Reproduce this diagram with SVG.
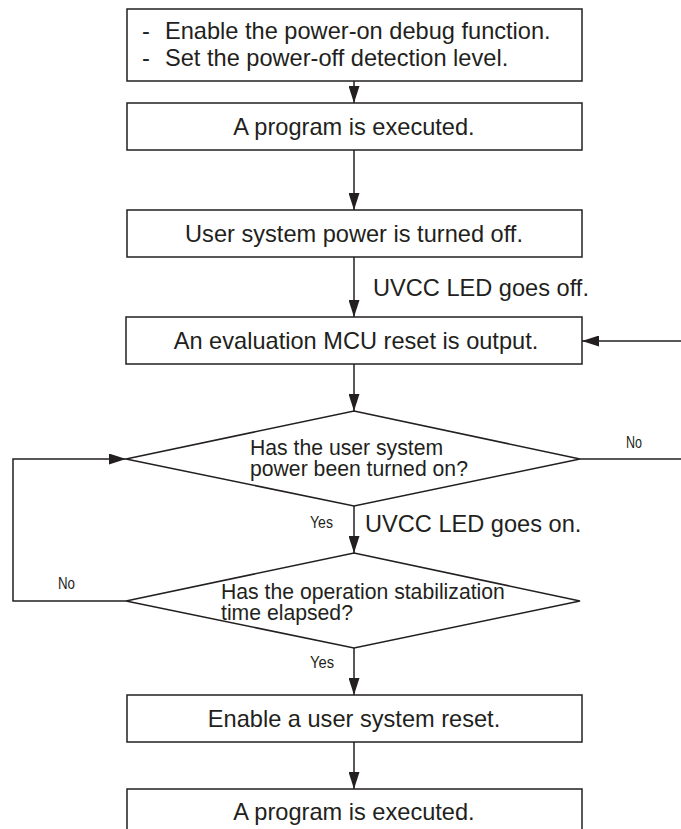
<svg xmlns="http://www.w3.org/2000/svg" width="681" height="829" viewBox="0 0 681 829">
<style>
.box{fill:#fff;stroke:#231f20;stroke-width:1.5}
.t{font-family:"Liberation Sans",Arial,Helvetica,sans-serif;font-size:23.6px;fill:#231f20}
.d{font-family:"Liberation Sans",Arial,Helvetica,sans-serif;font-size:21.2px;fill:#231f20}
.s{font-family:"Liberation Sans",Arial,Helvetica,sans-serif;font-size:16px;fill:#231f20}
.c{fill:none;stroke:#231f20;stroke-width:1.5}
</style>
<defs>
<marker id="ah" markerUnits="userSpaceOnUse" markerWidth="17" markerHeight="11" refX="17" refY="5.5" orient="auto">
<path d="M0,0 L17,5.5 L0,11 z" fill="#231f20"/>
</marker>
</defs>
<rect width="681" height="829" fill="#fff"/>
<g id="connectors">
<line class="c" x1="354" y1="81" x2="354" y2="103" marker-end="url(#ah)"/>
<line class="c" x1="354" y1="150" x2="354" y2="210" marker-end="url(#ah)"/>
<line class="c" x1="354" y1="257" x2="354" y2="317" marker-end="url(#ah)"/>
<line class="c" x1="681" y1="341" x2="582" y2="341" marker-end="url(#ah)"/>
<line class="c" x1="354" y1="364" x2="354" y2="411" marker-end="url(#ah)"/>
<line class="c" x1="580" y1="459" x2="681" y2="459"/>
<line class="c" x1="354" y1="506" x2="354" y2="553" marker-end="url(#ah)"/>
<polyline class="c" points="126,601 13,601 13,459 126,459" marker-end="url(#ah)"/>
<line class="c" x1="354" y1="648" x2="354" y2="695" marker-end="url(#ah)"/>
<line class="c" x1="354" y1="742" x2="354" y2="789" marker-end="url(#ah)"/>
<text class="t" x="373" y="296">UVCC LED goes off.</text>
<text class="s" x="626" y="448" textLength="16" lengthAdjust="spacingAndGlyphs">No</text>
<text class="s" x="310" y="528" textLength="23" lengthAdjust="spacingAndGlyphs">Yes</text>
<text class="t" x="365" y="532">UVCC LED goes on.</text>
<text class="s" x="58" y="589" textLength="17" lengthAdjust="spacingAndGlyphs">No</text>
<text class="s" x="310" y="668" textLength="24" lengthAdjust="spacingAndGlyphs">Yes</text>
</g>
<g id="n1">
<rect class="box" x="127" y="9" width="455" height="72"/>
<text class="t"><tspan x="142" y="39">-</tspan><tspan x="165" y="39">Enable the power-on debug function.</tspan><tspan x="142" y="66">-</tspan><tspan x="165" y="66">Set the power-off detection level.</tspan></text>
</g>
<g id="n2">
<rect class="box" x="127" y="103" width="455" height="47"/>
<text class="t" x="354" y="135" text-anchor="middle">A program is executed.</text>
</g>
<g id="n3">
<rect class="box" x="127" y="210" width="455" height="47"/>
<text class="t" x="354" y="242" text-anchor="middle">User system power is turned off.</text>
</g>
<g id="n4">
<rect class="box" x="126" y="317" width="456" height="47"/>
<text class="t" x="356" y="349" text-anchor="middle">An evaluation MCU reset is output.</text>
</g>
<g id="n5">
<polygon class="box" points="354,411 580,459 354,506 126,459"/>
<text class="d"><tspan x="250" y="455">Has the user system</tspan><tspan x="250" y="476">power been turned on?</tspan></text>
</g>
<g id="n6">
<polygon class="box" fill-opacity="0" points="354,553 580,601 354,648 126,601"/>
<text class="d"><tspan x="221" y="599">Has the operation stabilization</tspan><tspan x="221" y="620">time elapsed?</tspan></text>
</g>
<g id="n7">
<rect class="box" x="127" y="695" width="455" height="47"/>
<text class="t" x="354" y="727" text-anchor="middle">Enable a user system reset.</text>
</g>
<g id="n8">
<rect class="box" x="127" y="789" width="455" height="60"/>
<text class="t" x="354" y="820" text-anchor="middle">A program is executed.</text>
</g>
</svg>
